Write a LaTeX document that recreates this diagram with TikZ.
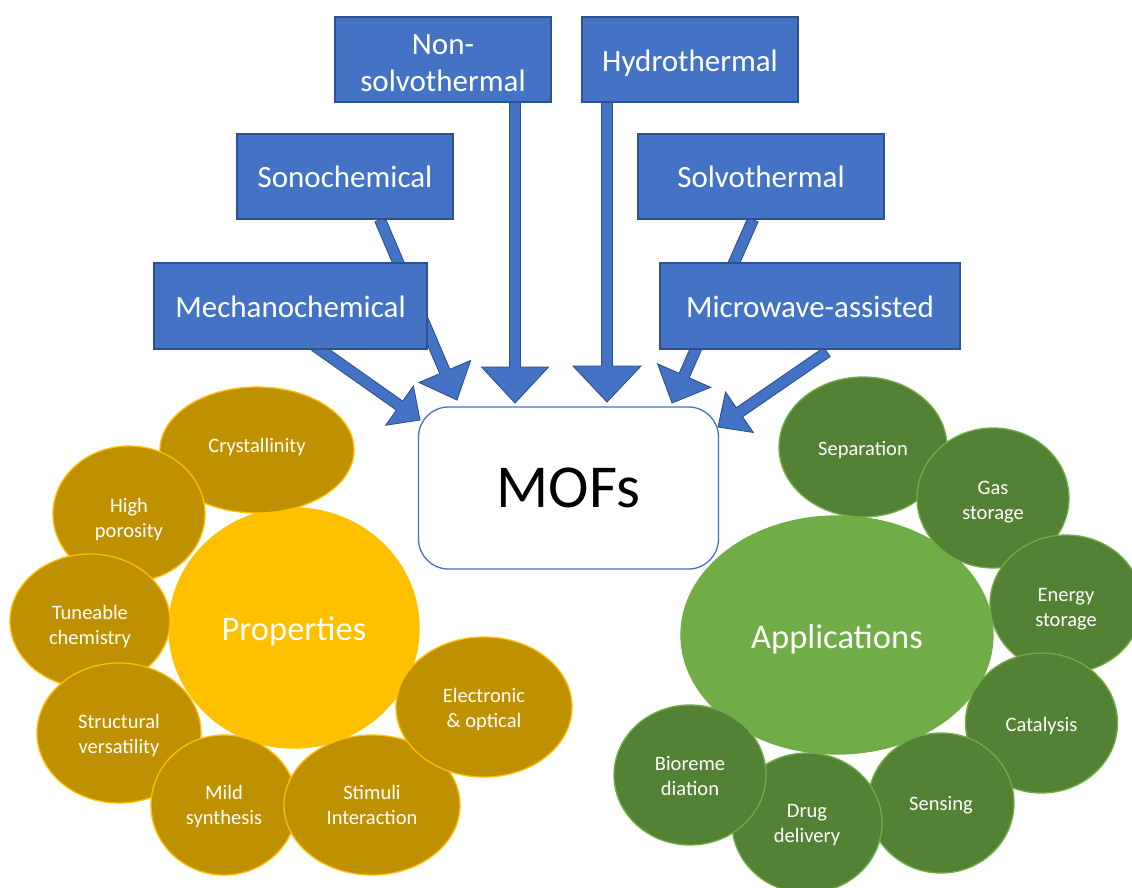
\documentclass[tikz,border=0pt]{standalone}
\usepackage{fontspec}
\setmainfont{Carlito}
\usetikzlibrary{calc,shapes.geometric}
\pgfdeclarelayer{bg}
\pgfdeclarelayer{arr}
\pgfsetlayers{bg,arr,main}
\definecolor{bfill}{HTML}{4472C4}
\definecolor{bline}{HTML}{2F528F}
\definecolor{gfill}{HTML}{BF9000}
\definecolor{gline}{HTML}{FFC000}
\definecolor{grfill}{HTML}{548235}
\definecolor{grline}{HTML}{70AD47}
% #1 tail, #2 tip, #3 half shaft width, #4 half head width, #5 head length
\newcommand\blockarrow[5]{%
  \coordinate (bac) at ($(#2)!#5!(#1)$);
  \filldraw[blockarr] ($(#1)!#3!90:(#2)$) -- ($(bac)!#3!90:(#2)$) -- ($(bac)!#4!90:(#2)$) -- (#2)
    -- ($(bac)!#4!-90:(#2)$) -- ($(bac)!#3!-90:(#2)$) -- ($(#1)!#3!-90:(#2)$) -- cycle;
}
% text lowered by #1 inside its own box
\newcommand\dn[2][3pt]{\raisebox{-#1}[\height][\depth]{\begin{tabular}{@{}c@{}}#2\end{tabular}}}
\tikzset{
  blockarr/.style={fill=bfill, draw=bline, line width=0.9pt, line join=miter},
  bluebox/.style={rectangle, fill=bfill, draw=bline, line width=1.3pt, text=white,
    font=\fontsize{31}{37.5}\selectfont, inner sep=0pt},
  mofbox/.style={rectangle, rounded corners=30pt, fill=white, draw=bfill, line width=1.3pt,
    font=\fontsize{61}{70}\selectfont, minimum width=300pt, minimum height=162pt, inner sep=0pt},
  goldsmall/.style={ellipse, fill=gfill, draw=gline, line width=1.3pt, text=white, inner sep=0pt,
    font=\fontsize{20.5}{25.5}\selectfont},
  goldbig/.style={ellipse, fill=gline, draw=gline, line width=1.3pt, text=white, inner sep=0pt,
    font=\fontsize{34.5}{40}\selectfont},
  greensmall/.style={ellipse, fill=grfill, draw=grline, line width=1.3pt, text=white, inner sep=0pt,
    font=\fontsize{20.5}{25.5}\selectfont},
  greenbig/.style={ellipse, fill=grline, draw=grline, line width=1.3pt, text=white, inner sep=0pt,
    font=\fontsize{34.5}{40}\selectfont},
}
\begin{document}
\begin{tikzpicture}[x=1pt, y=-1pt]
\begin{pgfonlayer}{bg}
\fill[white] (0,0) rectangle (1132,887);
\end{pgfonlayer}
\useasboundingbox (0,0) rectangle (1132,887);

% synthesis boxes
\node[bluebox, minimum width=216pt, minimum height=85pt] (nonsolvo) at (443,59.5) {\dn[6pt]{Non-\\solvothermal}};
\node[bluebox, minimum width=216pt, minimum height=85pt] (hydro) at (690,59.5) {\dn[4.5pt]{Hydrothermal}};
\node[bluebox, minimum width=216pt, minimum height=85pt] (sono) at (345,176.5) {\dn[3pt]{Sonochemical}};
\node[bluebox, minimum width=246pt, minimum height=85pt] (solvo) at (761,176.5) {\dn[3pt]{Solvothermal}};
\node[bluebox, minimum width=273pt, minimum height=86pt] (mecha) at (290.5,306) {\dn[4pt]{Mechanochemical}};
\node[bluebox, minimum width=300pt, minimum height=86pt] (micro) at (810,306) {\dn[4pt]{Microwave-assisted}};

% MOFs
\node[mofbox] (mofs) at (568.5,488) {\dn[5pt]{MOFs}};

% arrow ends
\coordinate (nsT) at (nonsolvo.south -| 515,0);
\coordinate (nsH) at (515,403);
\coordinate (hyT) at (hydro.south -| 607,0);
\coordinate (hyH) at (607,402);
\coordinate (soT) at (sono.south -| 380,0);
\coordinate (soH) at (457,400);
\coordinate (meT) at (315,346);
\coordinate (meH) at (420,420);
\coordinate (svT) at (solvo.south -| 753,0);
\coordinate (svH) at (672,403);
\coordinate (mwT) at (827,352);
\coordinate (mwH) at (718,427);

\begin{pgfonlayer}{arr}
\blockarrow{nsT}{nsH}{5.5pt}{33.5pt}{36pt}
\blockarrow{hyT}{hyH}{5.5pt}{34pt}{36pt}
\blockarrow{soT}{soH}{5.5pt}{28pt}{31pt}
\blockarrow{meT}{meH}{5.5pt}{24pt}{25pt}
\blockarrow{svT}{svH}{5.5pt}{29pt}{30pt}
\blockarrow{mwT}{mwH}{5.5pt}{24.5pt}{26pt}
\end{pgfonlayer}

% properties
\node[goldbig, minimum width=250pt, minimum height=240pt] (props) at (294,628) {\dn[4pt]{Properties}};
\node[goldsmall, minimum width=194pt, minimum height=126pt] (cry) at (257,450) {\dn[-3pt]{Crystallinity}};
\node[goldsmall, minimum width=152pt, minimum height=136pt] (high) at (129,514) {\dn[6pt]{High\\porosity}};
\node[goldsmall, minimum width=160pt, minimum height=134pt] (tune) at (90,621) {\dn[6pt]{Tuneable\\chemistry}};
\node[goldsmall, minimum width=164pt, minimum height=140pt] (struc) at (119,733) {\dn[3pt]{Structural\\versatility}};
\node[goldsmall, minimum width=146pt, minimum height=140pt] (mild) at (224,805) {\dn[2pt]{Mild\\synthesis}};
\node[goldsmall, minimum width=176pt, minimum height=140pt] (stim) at (372,805) {\dn[2pt]{Stimuli\\Interaction}};
\node[goldsmall, minimum width=176pt, minimum height=140pt] (elec) at (484,707) {\dn[3pt]{Electronic\\\& optical}};

% applications
\node[greenbig, minimum width=312pt, minimum height=238pt] (apps) at (837,635) {\dn[5pt]{Applications}};
\node[greensmall, minimum width=168pt, minimum height=140pt] (sep) at (863,447) {\dn[3pt]{Separation}};
\node[greensmall, minimum width=152pt, minimum height=140pt] (gas) at (993,498) {\dn[4pt]{Gas\\storage}};
\node[greensmall, minimum width=152pt, minimum height=138pt] (energy) at (1066,604) {\dn[5pt]{Energy\\storage}};
\node[greensmall, minimum width=152pt, minimum height=140pt] (cat) at (1041.5,723) {\dn[3pt]{Catalysis}};
\node[greensmall, minimum width=146pt, minimum height=140pt] (sens) at (941,803) {\dn[2pt]{Sensing}};
\node[greensmall, minimum width=150pt, minimum height=140pt] (drug) at (807,823) {\dn[2pt]{Drug\\delivery}};
\node[greensmall, minimum width=152pt, minimum height=140pt] (bio) at (690,775) {\dn[3pt]{Bioreme\\diation}};
\end{tikzpicture}
\end{document}
